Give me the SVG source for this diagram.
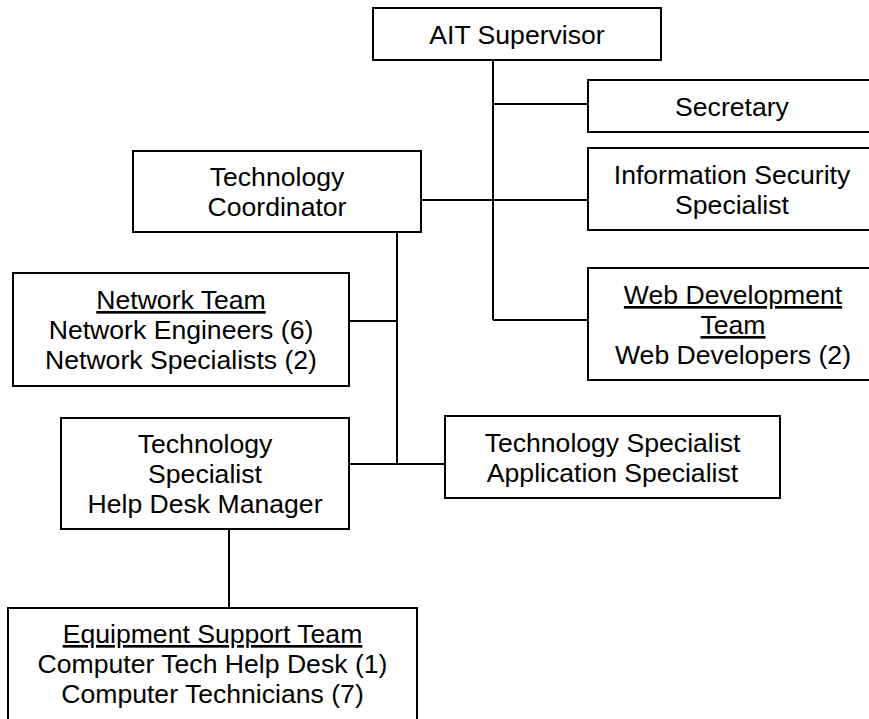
<svg xmlns="http://www.w3.org/2000/svg" width="869" height="719" viewBox="0 0 869 719">
  <style>
    .box { fill: #ffffff; stroke: #000000; stroke-width: 2; }
    .link { fill: none; stroke: #000000; stroke-width: 2; }
    text { font-family: "Liberation Sans", Arial, sans-serif; font-size: 26.6px; fill: #000000; text-anchor: middle; }
    .u { text-decoration: underline; }
  </style>
  <rect width="869" height="719" fill="#ffffff"/>

  <!-- reporting lines -->
  <g id="connectors">
    <path class="link" d="M493 60 V320"/>
    <path class="link" d="M493 104 H588"/>
    <path class="link" d="M421 200 H588"/>
    <path class="link" d="M493 320 H588"/>
    <path class="link" d="M397 232 V464"/>
    <path class="link" d="M349 321 H397"/>
    <path class="link" d="M349 464 H445"/>
    <path class="link" d="M229 529 V608"/>
  </g>

  <g id="ait-supervisor">
    <rect class="box" x="373" y="8" width="288" height="52"/>
    <text x="517" y="43.5">AIT Supervisor</text>
  </g>

  <g id="secretary">
    <rect class="box" x="588" y="80" width="290" height="52"/>
    <text x="732" y="115.5">Secretary</text>
  </g>

  <g id="information-security">
    <rect class="box" x="588" y="148" width="290" height="82"/>
    <text x="732" y="183.5">Information Security</text>
    <text x="732" y="213.5">Specialist</text>
  </g>

  <g id="web-development">
    <rect class="box" x="588" y="268" width="290" height="112"/>
    <text x="733" y="304" class="u">Web Development</text>
    <text x="733" y="334" class="u">Team</text>
    <text x="733" y="364">Web Developers (2)</text>
  </g>

  <g id="technology-coordinator">
    <rect class="box" x="133" y="151" width="288" height="81"/>
    <text x="277" y="186">Technology</text>
    <text x="277" y="216">Coordinator</text>
  </g>

  <g id="network-team">
    <rect class="box" x="13" y="273" width="336" height="113"/>
    <text x="181" y="309" class="u">Network Team</text>
    <text x="181" y="339">Network Engineers (6)</text>
    <text x="181" y="369">Network Specialists (2)</text>
  </g>

  <g id="help-desk-manager">
    <rect class="box" x="61" y="418" width="288" height="111"/>
    <text x="205" y="453">Technology</text>
    <text x="205" y="483">Specialist</text>
    <text x="205" y="513">Help Desk Manager</text>
  </g>

  <g id="application-specialist">
    <rect class="box" x="445" y="416" width="335" height="82"/>
    <text x="612.5" y="451.5">Technology Specialist</text>
    <text x="612.5" y="481.5">Application Specialist</text>
  </g>

  <g id="equipment-support">
    <rect class="box" x="8" y="608" width="409" height="130"/>
    <text x="212.5" y="643" class="u">Equipment Support Team</text>
    <text x="212.5" y="673">Computer Tech Help Desk (1)</text>
    <text x="212.5" y="703">Computer Technicians (7)</text>
  </g>
</svg>
